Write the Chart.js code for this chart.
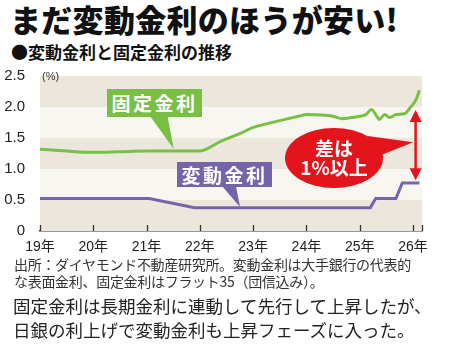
<!DOCTYPE html>
<html>
<head>
<meta charset="utf-8">
<script src="https://cdn.jsdelivr.net/npm/chart.js@4"></script>
<style>
  body { margin: 0; width: 450px; height: 363px; background: #fff; position: relative; overflow: hidden;
         font-family: "Noto Sans CJK JP", "Noto Sans", sans-serif; color: #222; }
  .abs { position: absolute; white-space: nowrap; }
  #title { left: 10px; top: -4px; font-size: 31px; font-weight: 900; letter-spacing: 0.3px; color: #111; }
  #sub { left: 11px; top: 39px; font-size: 17px; font-weight: 700; color: #111; }
  #chartBox { position: absolute; left: 0; top: 60px; width: 450px; height: 200px; }
  #unit { left: 42px; top: 70px; font-size: 11px; color: #333; font-family: "Liberation Sans", "Noto Sans CJK JP"; }
  .box { position: absolute; color: #fff; font-weight: 700; font-size: 19px; letter-spacing: 2.5px;
         text-align: center; line-height: 28px; }
  .tail { position: absolute; }
  #note { left: 14px; top: 256px; font-size: 14px; line-height: 17px; color: #333; letter-spacing: -0.3px; }
  #caption { left: 13px; top: 294px; font-size: 17.5px; line-height: 24px; color: #222; }
</style>
</head>
<body>
<div id="title" class="abs">まだ変動金利のほうが安い!</div>
<div id="sub" class="abs">●変動金利と固定金利の推移</div>
<div id="chartBox"><canvas id="rates" width="450" height="200"></canvas></div>
<div id="unit" class="abs">(%)</div>

<div class="tail" style="left:150px;top:116px;width:25px;height:33px;background:#79bf43;clip-path:polygon(0 0,70% 0,95% 100%);"></div>
<div class="box" style="left:107px;top:89px;width:95px;height:28px;background:#79bf43;">固定金利</div>

<div class="tail" style="left:222px;top:186px;width:20px;height:21px;background:#7664aa;clip-path:polygon(0 0,70% 0,90% 100%);"></div>
<div class="box" style="left:177px;top:162px;width:95px;height:25px;line-height:25px;background:#7664aa;">変動金利</div>

<div class="tail" style="left:368px;top:136px;width:46px;height:22px;background:#e3141c;clip-path:polygon(0 0,98% 28%,22% 92%);"></div>
<div class="box" style="left:285px;top:128px;width:98px;height:60px;border-radius:50%;background:#e3141c;line-height:19px;letter-spacing:0;">
  <div style="margin-top:10px;">差は</div><div>1%以上</div>
</div>

<div id="note" class="abs">出所：ダイヤモンド不動産研究所。変動金利は大手銀行の代表的<br>な表面金利、固定金利はフラット35（団信込み）。</div>
<div id="caption" class="abs">固定金利は長期金利に連動して先行して上昇したが、<br>日銀の利上げで変動金利も上昇フェーズに入った。</div>

<script>
// 固定金利（フラット35）
var fixedYears = [2019.0, 2019.5, 2020.0, 2020.5, 2021.0, 2021.5, 2022.0, 2022.4, 2022.75, 2023.0, 2023.3, 2023.6, 2023.9, 2024.0,
                  2024.3, 2024.5, 2024.68, 2024.85, 2025.0, 2025.12, 2025.22, 2025.3, 2025.37, 2025.47, 2025.56, 2025.69, 2025.84, 2025.94, 2026.07, 2026.12];
var fixedRates = [1.32, 1.29, 1.27, 1.28, 1.29, 1.29, 1.29, 1.45, 1.57, 1.67, 1.74, 1.80, 1.86, 1.88,
                  1.87, 1.85, 1.81, 1.83, 1.85, 1.88, 1.96, 1.88, 1.80, 1.88, 1.83, 1.88, 1.89, 1.98, 2.14, 2.27];

// 変動金利（大手銀行）
var variableYears = [2019.0, 2021.05, 2021.9, 2025.2, 2025.3, 2025.68, 2025.8, 2026.12];
var variableRates = [0.525, 0.525, 0.375, 0.375, 0.525, 0.525, 0.775, 0.775];

var yearTicks = [2019, 2020, 2021, 2022, 2023, 2024, 2025, 2026];
var yearLabels = ['19年', '20年', '21年', '22年', '23年', '24年', '25年', '26年'];
var xEnd = 2026.17;

// 背景の縞
var bands = [[0, 0.5, '#ece7dd'], [0.5, 1.0, '#f8f6f1'], [1.0, 1.5, '#ece7dd'], [1.5, 2.0, '#f8f6f1'], [2.0, 2.5, '#ece7dd']];

// 差の矢印
var gapX = 2026.05, gapLow = 0.82, gapHigh = 1.95;

function toPoints(xs, ys) {
    return xs.map(function (x, i) { return { x: x, y: ys[i] }; });
}

var decor = {
    id: 'decor',
    beforeDatasetsDraw: function (chart) {
        var ctx = chart.ctx, a = chart.chartArea, y = chart.scales.y;
        ctx.save();
        bands.forEach(function (b) {
            ctx.fillStyle = b[2];
            ctx.fillRect(a.left, y.getPixelForValue(b[1]), a.right - a.left, y.getPixelForValue(b[0]) - y.getPixelForValue(b[1]));
        });
        ctx.restore();
    },
    afterDatasetsDraw: function (chart) {
        var ctx = chart.ctx, a = chart.chartArea, x = chart.scales.x, y = chart.scales.y;
        ctx.save();
        // x軸の目盛り（上向き）
        ctx.strokeStyle = '#333';
        ctx.lineWidth = 1.3;
        yearTicks.concat([xEnd]).forEach(function (v) {
            var px = Math.round(x.getPixelForValue(v)) + 0.5;
            ctx.beginPath();
            ctx.moveTo(px, a.bottom);
            ctx.lineTo(px, a.bottom - 6);
            ctx.stroke();
        });
        // 差の矢印
        var ax = x.getPixelForValue(gapX), top = y.getPixelForValue(gapHigh), bot = y.getPixelForValue(gapLow);
        ctx.strokeStyle = '#e3141c';
        ctx.fillStyle = '#e3141c';
        ctx.lineWidth = 2.5;
        ctx.beginPath();
        ctx.moveTo(ax, top + 8);
        ctx.lineTo(ax, bot - 8);
        ctx.stroke();
        ctx.beginPath();
        ctx.moveTo(ax, top); ctx.lineTo(ax - 6, top + 12); ctx.lineTo(ax + 6, top + 12); ctx.closePath();
        ctx.fill();
        ctx.beginPath();
        ctx.moveTo(ax, bot); ctx.lineTo(ax - 6, bot - 12); ctx.lineTo(ax + 6, bot - 12); ctx.closePath();
        ctx.fill();
        ctx.restore();
    }
};

new Chart("rates", {
    type: "line",
    data: {
        datasets: [{
            label: "固定金利",
            data: toPoints(fixedYears, fixedRates),
            borderColor: "#79bf43",
            borderWidth: 3,
            pointRadius: 0,
            tension: 0.3,
            cubicInterpolationMode: "monotone"
        }, {
            label: "変動金利",
            data: toPoints(variableYears, variableRates),
            borderColor: "#7664aa",
            borderWidth: 3,
            pointRadius: 0,
            tension: 0
        }]
    },
    options: {
        responsive: false,
        animation: false,
        devicePixelRatio: 1,
        layout: { padding: { left: 0, right: 28, top: 10, bottom: 0 } },
        plugins: { legend: { display: false }, tooltip: { enabled: false } },
        scales: {
            x: {
                type: "linear",
                min: 2019,
                max: xEnd,
                afterBuildTicks: function (s) { s.ticks = yearTicks.map(function (v) { return { value: v }; }); },
                afterFit: function (s) { s.height = 29; },
                ticks: {
                    padding: 0,
                    color: "#222",
                    font: { family: "'Liberation Sans', 'Noto Sans CJK JP'", size: 14 },
                    maxRotation: 0,
                    autoSkip: false,
                    callback: function (v, i) { return yearLabels[i]; }
                },
                grid: { display: false },
                border: { display: true, color: "#333", width: 1.5 }
            },
            y: {
                min: 0,
                max: 2.5,
                afterFit: function (s) { s.width = 40; },
                ticks: {
                    stepSize: 0.5,
                    padding: 7,
                    color: "#222",
                    font: { family: "'Liberation Sans'", size: 15 },
                    callback: function (v) { return v === 0 ? '0' : v.toFixed(1); }
                },
                grid: { display: false },
                border: { display: false }
            }
        }
    },
    plugins: [decor]
});
</script>
</body>
</html>
